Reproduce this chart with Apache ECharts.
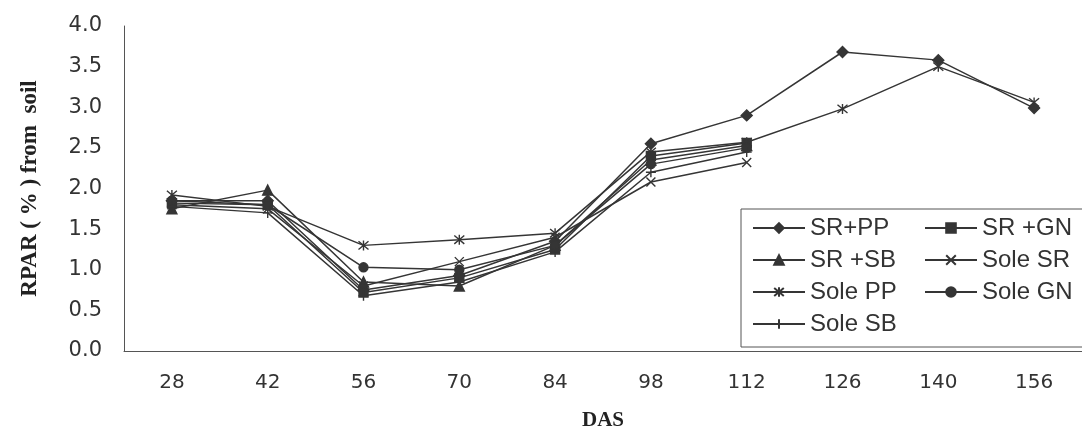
<!DOCTYPE html>
<html>
<head>
<meta charset="utf-8">
<script src="https://cdn.jsdelivr.net/npm/echarts@6/dist/echarts.min.js"></script>
<style>
  html, body { margin: 0; padding: 0; background: #fff; }
  #chart { width: 1082px; height: 438px; }
</style>
</head>
<body>
<div id="chart"></div>
<script>
// days after sowing
const categories = ['28', '42', '56', '70', '84', '98', '112', '126', '140', '156'];
const yTicks = [0, 0.5, 1.0, 1.5, 2.0, 2.5, 3.0, 3.5, 4.0];

// RPAR (%) reaching soil
const srPP   = [1.85, 1.85, 0.75, 0.93, 1.35, 2.55, 2.90, 3.68, 3.58, 2.99];
const srGN   = [1.82, 1.80, 0.72, 0.90, 1.25, 2.40, 2.56];
const srSB   = [1.75, 1.98, 0.85, 0.80, 1.30, 2.35, 2.53];
const soleSR = [1.80, 1.75, 0.80, 1.10, 1.40, 2.08, 2.32];
const solePP = [1.92, 1.78, 1.30, 1.37, 1.45, 2.45, 2.57, 2.98, 3.50, 3.06];
const soleGN = [1.85, 1.80, 1.03, 1.00, 1.30, 2.30, 2.50];
const soleSB = [1.78, 1.70, 0.68, 0.85, 1.22, 2.20, 2.45];

const ink = '#353535';
const crossPath = 'path://M0,0L10,10M10,0L0,10';
const starPath = 'path://M0,0L10,10M10,0L0,10M5,-1L5,11';
const plusPath = 'path://M0,5L10,5M5,0L5,10';

const mkSeries = (name, data, symbol, size) => ({
    name: name,
    type: 'line',
    data: data,
    symbol: symbol,
    symbolSize: size,
    showSymbol: true,
    lineStyle: { color: ink, width: 1.5 },
    itemStyle: { color: ink, borderColor: ink, borderWidth: 1.4 }
});

const series = [
    mkSeries('SR+PP', srPP, 'diamond', 11),
    mkSeries('SR +GN', srGN, 'rect', 9),
    mkSeries('SR +SB', srSB, 'triangle', 10),
    mkSeries('Sole SR', soleSR, crossPath, 9),
    mkSeries('Sole PP', solePP, starPath, 10),
    mkSeries('Sole GN', soleGN, 'circle', 9),
    mkSeries('Sole SB', soleSB, plusPath, 10)
];

const chart = echarts.init(document.getElementById('chart'));
chart.setOption({
    backgroundColor: '#fff',
    animation: false,
    grid: { left: 124, top: 26, width: 963, height: 325 },
    xAxis: {
        type: 'category',
        data: categories,
        boundaryGap: true,
        axisLine: { lineStyle: { color: '#555', width: 1 } },
        axisTick: { show: false },
        axisLabel: { fontFamily: 'DejaVu Sans', fontSize: 20, color: '#333', margin: 22 },
        name: 'DAS',
        nameLocation: 'middle',
        nameGap: 59,
        nameTextStyle: { fontFamily: 'Liberation Serif', fontWeight: 'bold', fontSize: 21, color: '#222' }
    },
    yAxis: {
        type: 'value',
        min: yTicks[0],
        max: yTicks[yTicks.length - 1],
        interval: 0.5,
        axisLine: { show: true, lineStyle: { color: '#555', width: 1 } },
        axisTick: { show: false },
        splitLine: { show: false },
        axisLabel: {
            fontFamily: 'DejaVu Sans', fontSize: 21, color: '#333', margin: 22,
            formatter: v => v.toFixed(1)
        },
        name: 'RPAR ( % ) from  soil',
        nameLocation: 'middle',
        nameGap: 82,
        nameTextStyle: { fontFamily: 'Liberation Serif', fontWeight: 'bold', fontSize: 23, color: '#222' }
    },
    legend: {
        left: 741,
        top: 209,
        orient: 'horizontal',
        width: 340,
        itemWidth: 52,
        itemHeight: 12,
        itemGap: 4,
        padding: [5, 10, 9, 11],
        borderColor: '#555',
        borderWidth: 1,
        backgroundColor: '#fff',
        textStyle: { fontFamily: 'Liberation Sans', fontSize: 24, color: '#333', width: 110, lineHeight: 28 },
        data: series.map(s => s.name)
    },
    series: series
});
</script>
</body>
</html>
